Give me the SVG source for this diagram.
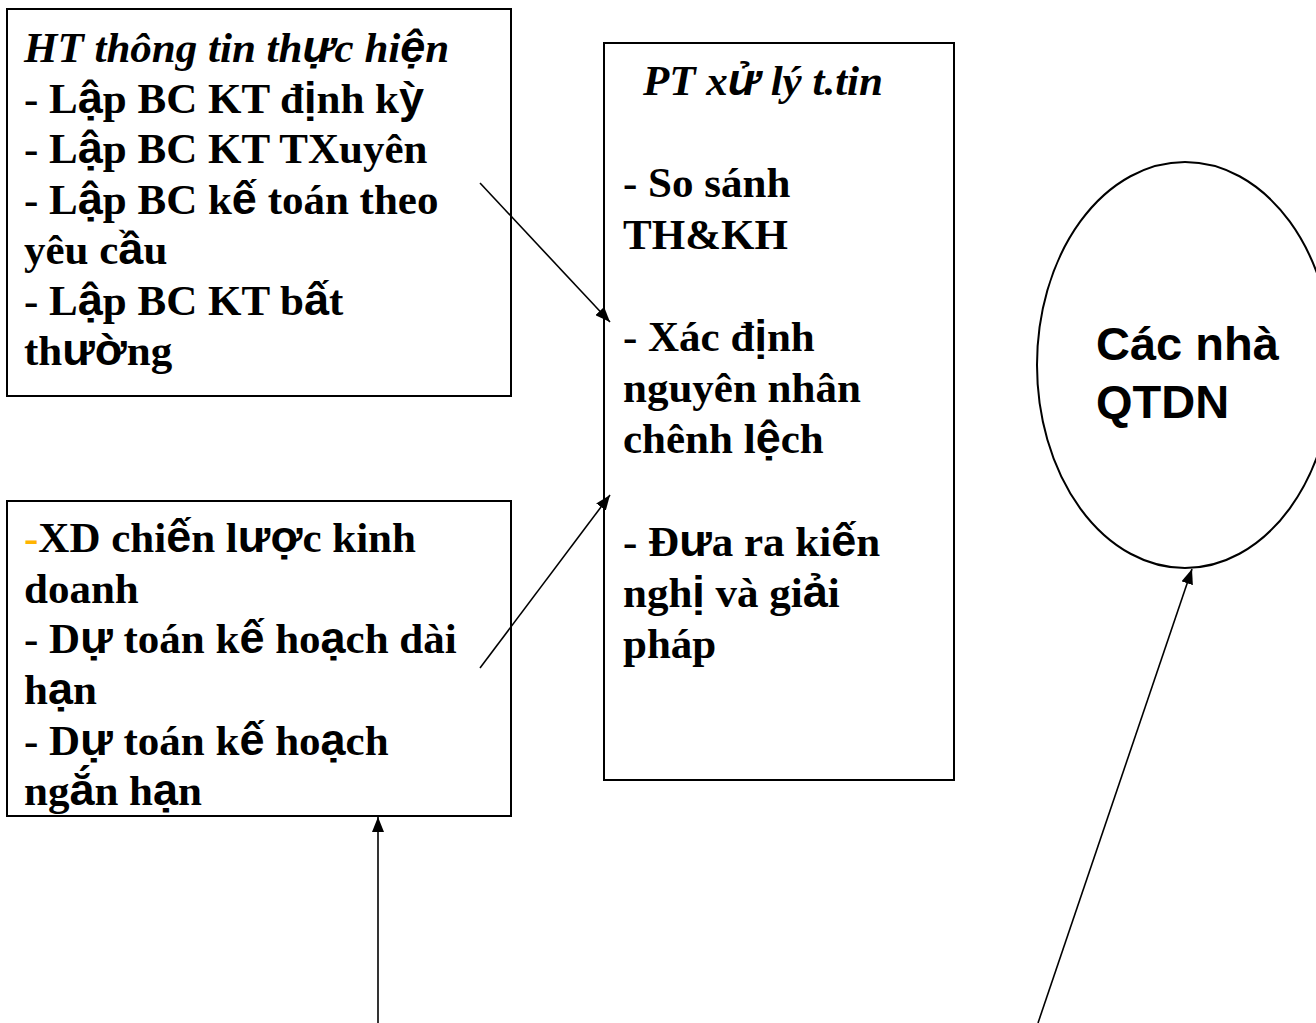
<svg xmlns="http://www.w3.org/2000/svg" width="1316" height="1023" viewBox="0 0 1316 1023">
<style>
.box{fill:#fff;stroke:#000;stroke-width:2}
.t{font-family:"Liberation Serif","Times New Roman",serif;font-weight:bold;font-size:43px;fill:#000}
.i{font-style:italic}
.s{font-family:"Liberation Sans",Arial,sans-serif;font-size:45px}
.e{font-family:"Liberation Sans",Arial,sans-serif;font-weight:bold;font-size:47px;fill:#000}
.c{stroke:#000;stroke-width:1.6;fill:none;marker-end:url(#ah)}
</style>
<defs>
<marker id="ah" markerUnits="userSpaceOnUse" markerWidth="16" markerHeight="12" refX="15" refY="6" orient="auto">
<path d="M0,0 L15,6 L0,12 Z" fill="#000"/>
</marker>
</defs>
<rect width="1316" height="1023" fill="#fff"/>
<g id="node-ht">
<rect class="box" x="7" y="9" width="504" height="387"/>
<text class="t">
<tspan x="24" y="62" class="i">HT thông tin th<tspan class="s">ự</tspan>c hi<tspan class="s">ệ</tspan>n</tspan>
<tspan x="24" y="112.5">- L<tspan class="s">ậ</tspan>p BC KT đ<tspan class="s">ị</tspan>nh k<tspan class="s">ỳ</tspan></tspan>
<tspan x="24" y="163">- L<tspan class="s">ậ</tspan>p BC KT TXuyên</tspan>
<tspan x="24" y="213.5">- L<tspan class="s">ậ</tspan>p BC k<tspan class="s">ế</tspan> toán theo</tspan>
<tspan x="24" y="264">yêu c<tspan class="s">ầ</tspan>u</tspan>
<tspan x="24" y="314.5">- L<tspan class="s">ậ</tspan>p BC KT b<tspan class="s">ấ</tspan>t</tspan>
<tspan x="24" y="365">th<tspan class="s">ườ</tspan>ng</tspan>
</text>
</g>
<g id="node-kh">
<rect class="box" x="7" y="501" width="504" height="315"/>
<text class="t">
<tspan x="24" y="552"><tspan fill="#FFB400">-</tspan>XD chi<tspan class="s">ế</tspan>n l<tspan class="s">ượ</tspan>c kinh</tspan>
<tspan x="24" y="602.5">doanh</tspan>
<tspan x="24" y="653">- D<tspan class="s">ự</tspan> toán k<tspan class="s">ế</tspan> ho<tspan class="s">ạ</tspan>ch dài</tspan>
<tspan x="24" y="703.5">h<tspan class="s">ạ</tspan>n</tspan>
<tspan x="24" y="754.5">- D<tspan class="s">ự</tspan> toán k<tspan class="s">ế</tspan> ho<tspan class="s">ạ</tspan>ch</tspan>
<tspan x="24" y="805">ng<tspan class="s">ắ</tspan>n h<tspan class="s">ạ</tspan>n</tspan>
</text>
</g>
<g id="node-pt">
<rect class="box" x="604" y="43" width="350" height="737"/>
<text class="t">
<tspan x="643" y="95" class="i">PT x<tspan class="s">ử</tspan> lý t.tin</tspan>
<tspan x="623" y="197">- So sánh</tspan>
<tspan x="623" y="249">TH&amp;KH</tspan>
<tspan x="623" y="351">- Xác đ<tspan class="s">ị</tspan>nh</tspan>
<tspan x="623" y="402">nguyên nhân</tspan>
<tspan x="623" y="453">chênh l<tspan class="s">ệ</tspan>ch</tspan>
<tspan x="623" y="556">- Đ<tspan class="s">ư</tspan>a ra ki<tspan class="s">ế</tspan>n</tspan>
<tspan x="623" y="607">ngh<tspan class="s">ị</tspan> và gi<tspan class="s">ả</tspan>i</tspan>
<tspan x="623" y="658">pháp</tspan>
</text>
</g>
<g id="node-qtdn">
<ellipse cx="1185" cy="365" rx="148" ry="203" fill="#fff" stroke="#000" stroke-width="2"/>
<text class="e"><tspan x="1096" y="360">Các nhà</tspan><tspan x="1096" y="418">QTDN</tspan></text>
</g>
<g id="connectors">
<line class="c" x1="480" y1="183" x2="610" y2="322"/>
<line class="c" x1="480" y1="668" x2="610" y2="495"/>
<line class="c" x1="378" y1="1023" x2="378" y2="817"/>
<line class="c" x1="1038" y1="1023" x2="1192" y2="569"/>
</g>
</svg>
